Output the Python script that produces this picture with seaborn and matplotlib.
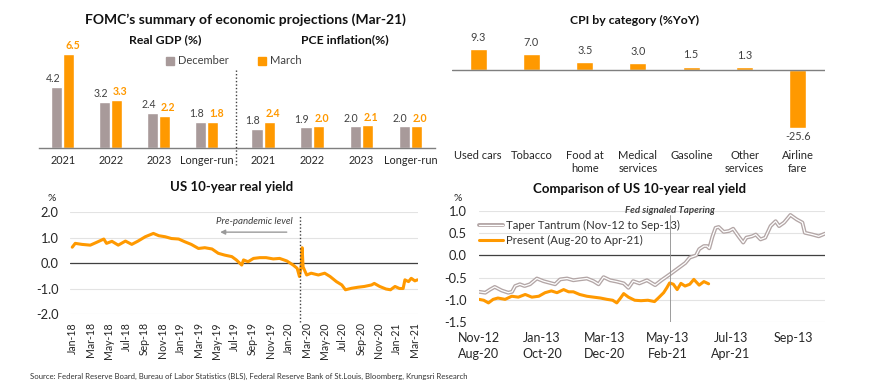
import matplotlib
matplotlib.use("Agg")
import matplotlib.pyplot as plt
import matplotlib.patheffects as pe
from matplotlib.lines import Line2D
from matplotlib.patches import Patch
import seaborn as sns
import pandas as pd

# ---------------- data ----------------
periods = ["2021", "2022", "2023", "Longer-run"]
gdp_dec = [4.2, 3.2, 2.4, 1.8]
gdp_mar = [6.5, 3.3, 2.2, 1.8]
pce_dec = [1.8, 1.9, 2.0, 2.0]
pce_mar = [2.4, 2.0, 2.1, 2.0]

cpi_categories = ["Used cars", "Tobacco", "Food at\nhome", "Medical\nservices",
                  "Gasoline", "Other\nservices", "Airline\nfare"]
cpi_values = [9.3, 7.0, 3.5, 3.0, 1.5, 1.3, -25.6]

# US 10-year real yield, months since Jan-2018
ry_month = [0, 0.33, 1.07, 2.0, 2.7, 3.5, 3.8, 4.4, 5.1, 5.9,
            6.6, 7.3, 8.1, 9.0, 9.6, 10.3, 11.0, 11.8, 12.5, 13.2,
            14.0, 14.7, 15.5, 16.2, 16.9, 17.7, 18.2, 18.8, 19.0, 19.5,
            20.1, 20.8, 21.5, 22.3, 23.0, 23.8, 24.5, 24.95, 25.2, 25.4,
            25.5, 25.6, 26.0, 26.5, 27.3, 28.0, 28.6, 29.3, 29.9, 30.3,
            31.0, 31.7, 32.4, 33.2, 33.5, 34.1, 34.8, 35.3, 35.8, 36.3,
            36.7, 36.9, 37.3, 37.6, 38.0, 38.3]
ry_value = [0.62, 0.77, 0.73, 0.70, 0.81, 0.94, 0.77, 0.85, 0.70, 0.86,
            0.73, 0.86, 1.03, 1.16, 1.07, 1.03, 0.96, 0.94, 0.83, 0.73,
            0.57, 0.60, 0.55, 0.38, 0.31, 0.25, 0.12, -0.08, 0.12, 0.05,
            0.18, 0.21, 0.21, 0.16, 0.18, 0.08, -0.08, -0.21, -0.53, -0.10,
            0.60, -0.15, -0.47, -0.40, -0.47, -0.40, -0.53, -0.73, -0.86, -1.05,
            -0.99, -0.95, -0.92, -0.86, -0.80, -0.92, -1.02, -1.05, -0.92, -1.00,
            -1.00, -0.66, -0.73, -0.60, -0.70, -0.66]
ry_ticklabels = ["Jan-18", "Mar-18", "May-18", "Jul-18", "Sep-18", "Nov-18",
                 "Jan-19", "Mar-19", "May-19", "Jul-19", "Sep-19", "Nov-19",
                 "Jan-20", "Mar-20", "May-20", "Jul-20", "Sep-20", "Nov-20",
                 "Jan-21", "Mar-21"]

# Comparison: months since start of each episode
tt_month = [0, 0.2, 0.35, 0.5, 0.72, 0.93, 1.05, 1.15, 1.3, 1.45,
            1.62, 1.84, 2.05, 2.26, 2.42, 2.58, 2.8, 3.0, 3.2, 3.43,
            3.64, 3.8, 3.96, 4.17, 4.38, 4.6, 4.75, 4.9, 5.1, 5.34,
            5.6, 5.8, 6.1, 6.35, 6.56, 6.7, 6.9, 7.0, 7.15, 7.25,
            7.32, 7.42, 7.52, 7.62, 7.78, 7.95, 8.08, 8.26, 8.4, 8.5,
            8.68, 8.8, 8.95, 9.1, 9.27, 9.43, 9.54, 9.7, 9.9, 10.1,
            10.28, 10.36, 10.6, 10.8, 11.0]
tt_value = [-0.82, -0.84, -0.77, -0.71, -0.79, -0.84, -0.82, -0.69, -0.65, -0.69,
            -0.65, -0.52, -0.58, -0.62, -0.65, -0.54, -0.52, -0.56, -0.54, -0.52,
            -0.58, -0.65, -0.49, -0.56, -0.59, -0.63, -0.73, -0.58, -0.63, -0.56,
            -0.67, -0.56, -0.41, -0.28, -0.17, -0.05, 0.0, 0.14, 0.21, 0.21,
            0.16, 0.42, 0.62, 0.64, 0.53, 0.55, 0.60, 0.42, 0.29, 0.40,
            0.43, 0.47, 0.36, 0.40, 0.66, 0.77, 0.66, 0.74, 0.91, 0.81,
            0.74, 0.51, 0.47, 0.43, 0.49]
pr_month = [0, 0.15, 0.3, 0.45, 0.6, 0.83, 1.04, 1.25, 1.47, 1.68,
            1.9, 2.1, 2.3, 2.48, 2.69, 2.85, 3.0, 3.2, 3.43, 3.64,
            3.86, 4.07, 4.25, 4.38, 4.5, 4.6, 4.75, 4.95, 5.15, 5.37,
            5.58, 5.7, 5.87, 5.97, 6.06, 6.18, 6.3, 6.42, 6.55, 6.7,
            6.83, 7.0, 7.15, 7.3]
pr_value = [-0.99, -1.01, -1.07, -0.99, -0.96, -0.99, -0.92, -0.94, -0.88, -0.94,
            -0.92, -0.84, -0.80, -0.84, -0.77, -0.82, -0.82, -0.88, -0.92, -0.94,
            -0.96, -0.99, -1.01, -1.07, -0.96, -0.86, -0.94, -1.01, -1.02, -1.01,
            -1.04, -0.96, -0.84, -0.73, -0.62, -0.65, -0.77, -0.63, -0.69, -0.65,
            -0.54, -0.67, -0.59, -0.64]
cmp_ticks = [0, 2, 4, 6, 8, 10]
cmp_ticklabels = ["Nov-12\nAug-20", "Jan-13\nOct-20", "Mar-13\nDec-20",
                  "May-13\nFeb-21", "Jul-13\nApr-21", "Sep-13\n "]

# ---------------- style ----------------
sns.set_style("white")
plt.rcParams["font.family"] = ["Lato", "DejaVu Sans"]
ORANGE = "#FF9900"
GREY = "#A89A9A"
TXT = "#262626"

W, H = 870, 391
fig = plt.figure(figsize=(W / 100, H / 100), dpi=100)


def fx(px):
    return px / W


def fy(py):
    return 1 - py / H


def rect(x0, y0, x1, y1):
    return [x0 / W, 1 - y1 / H, (x1 - x0) / W, (y1 - y0) / H]


# ---------------- FOMC panel ----------------
def fomc_panel(ax, dec, mar, ymax, xmax):
    df = pd.DataFrame({"period": periods * 2,
                       "value": dec + mar,
                       "series": ["December"] * 4 + ["March"] * 4})
    sns.barplot(data=df, x="period", y="value", hue="series",
                palette={"December": GREY, "March": ORANGE},
                width=0.5, gap=0.08, ax=ax, legend=False, saturation=1)
    ax.set_ylim(0, ymax)
    ax.set_xlim(-0.5, xmax)
    ax.set_xlabel("")
    ax.set_ylabel("")
    ax.set_yticks([])
    for s in ["top", "left", "right"]:
        ax.spines[s].set_visible(False)
    ax.spines["bottom"].set_color("#7f7f7f")
    ax.spines["bottom"].set_linewidth(1.0)
    ax.tick_params(axis="x", length=0, pad=5, labelsize=7.8, labelcolor=TXT)
    styles = [(-3.0, "#404040", "normal"), (2.5, ORANGE, "bold")]
    for cont, (dx, col, fw) in zip(ax.containers, styles):
        for p in cont:
            cx = p.get_x() + p.get_width() / 2
            ax.annotate(f"{p.get_height():.1f}", xy=(cx, p.get_height()),
                        xytext=(dx, 2), textcoords="offset points",
                        ha="center", va="bottom", fontsize=7.6,
                        color=col, fontweight=fw)


ax_gdp = fig.add_axes(rect(39, 46.5, 238.5, 148))
fomc_panel(ax_gdp, gdp_dec, gdp_mar, 7.0, 3.66)
ax_pce = fig.add_axes(rect(238.5, 46.5, 435, 148))
fomc_panel(ax_pce, pce_dec, pce_mar, 9.4, 3.5)

fig.text(fx(245), fy(20), "FOMC\u2019s summary of economic projections (Mar-21)",
         ha="center", va="center", fontsize=10, fontweight="bold", color="#111")
fig.text(fx(165), fy(40), "Real GDP (%)", ha="center", va="center",
         fontsize=8.8, fontweight="bold", color="#111")
fig.text(fx(345), fy(40), "PCE inflation(%)", ha="center", va="center",
         fontsize=8.8, fontweight="bold", color="#111")
fig.legend(handles=[Patch(color=GREY), Patch(color=ORANGE)],
           labels=["December", "March"], loc="center",
           bbox_to_anchor=(fx(234), fy(61)), ncol=2, frameon=False,
           fontsize=8, handlelength=0.7, handleheight=0.7,
           handletextpad=0.4, columnspacing=2.6, labelcolor="#404040")
fig.add_artist(Line2D([fx(236), fx(236)], [fy(70), fy(165)],
                      transform=fig.transFigure, color="#404040",
                      lw=1.0, ls=(0, (1, 1.5))))

# ---------------- CPI panel ----------------
ax_cpi = fig.add_axes(rect(452, 45, 825, 135))
sns.barplot(x=cpi_categories, y=cpi_values, color=ORANGE, width=0.32,
            saturation=1, ax=ax_cpi)
ax_cpi.set_ylim(-28.5, 11)
ax_cpi.set_xlim(-0.49, 6.51)
ax_cpi.axhline(0, color="#7f7f7f", lw=1.0)
sns.despine(ax=ax_cpi, left=True, bottom=True)
ax_cpi.set_yticks([])
ax_cpi.tick_params(axis="x", length=0, pad=11, labelsize=8, labelcolor=TXT)
for i, v in enumerate(cpi_values):
    ax_cpi.annotate(f"{v:.1f}", xy=(i, v), xytext=(0, 8.5 if v > 0 else -6),
                    textcoords="offset points", ha="center", va="center",
                    fontsize=7.8, color="#404040")
fig.text(fx(635), fy(20), "CPI by category (%YoY)", ha="center", va="center",
         fontsize=8.8, fontweight="bold", color="#111")

# ---------------- US 10-year real yield ----------------
ax_ry = fig.add_axes(rect(70, 212, 418, 314))
sns.lineplot(x=ry_month, y=ry_value, color=ORANGE, lw=2.2, ax=ax_ry)
ax_ry.set_ylim(-2, 2)
ax_ry.set_xlim(-0.25, 38.35)
ax_ry.set_yticks([-2, -1, 0, 1, 2])
ax_ry.set_yticklabels(["-2.0", "-1.0", "0.0", "1.0", "2.0"])
ax_ry.set_xticks(range(0, 39, 2))
ax_ry.set_xticklabels(ry_ticklabels, rotation=90)
ax_ry.grid(axis="y", color="#E3E3E3", lw=0.8)
ax_ry.set_axisbelow(True)
ax_ry.axhline(0, color="#404040", lw=0.9, zorder=1.5)
sns.despine(ax=ax_ry, left=True, bottom=True)
ax_ry.tick_params(axis="x", length=0, pad=6, labelsize=7.6, labelcolor=TXT)
ax_ry.tick_params(axis="y", length=0, pad=8, labelsize=9.3, labelcolor=TXT)
ax_ry.axvline(25.25, ymin=-0.08, ymax=0.96, clip_on=False, color="#404040",
              lw=1.0, ls=(0, (1, 1.5)))
ax_ry.text(20.2, 1.64, "Pre-pandemic level", ha="center", va="center",
           fontsize=7, style="italic", color="#404040")
ax_ry.annotate("", xy=(16.1, 1.21), xytext=(24.1, 1.21),
               arrowprops=dict(arrowstyle="-|>", color="#9a9a9a", lw=1.0,
                               mutation_scale=7))
fig.text(fx(232), fy(187), "US 10-year real yield", ha="center", va="center",
         fontsize=9.5, fontweight="bold", color="#111")
fig.text(fx(52), fy(198), "%", ha="center", va="center", fontsize=7.5, color=TXT)

# ---------------- Comparison ----------------
ax_c = fig.add_axes(rect(479, 211, 825, 322))
sns.lineplot(x=tt_month, y=tt_value, color="white", lw=0.9, ax=ax_c,
             label="Taper Tantrum (Nov-12 to Sep-13)",
             path_effects=[pe.Stroke(linewidth=2.8, foreground="#B3A6A6"), pe.Normal()])
sns.lineplot(x=pr_month, y=pr_value, color=ORANGE, lw=2.2, ax=ax_c,
             label="Present (Aug-20 to Apr-21)")
ax_c.set_ylim(-1.5, 1.0)
ax_c.set_xlim(0, 11.0)
ax_c.set_yticks([-1.5, -1.0, -0.5, 0, 0.5, 1.0])
ax_c.set_yticklabels(["-1.5", "-1.0", "-0.5", "0.0", "0.5", "1.0"])
ax_c.set_xticks(cmp_ticks)
ax_c.set_xticklabels(cmp_ticklabels, linespacing=1.45)
ax_c.grid(axis="y", color="#E3E3E3", lw=0.8)
ax_c.set_axisbelow(True)
ax_c.axhline(0, color="#404040", lw=0.9, zorder=1.5)
sns.despine(ax=ax_c, left=True, bottom=True)
ax_c.tick_params(axis="x", length=0, pad=7, labelsize=9, labelcolor=TXT)
ax_c.tick_params(axis="y", length=0, pad=9, labelsize=9.3, labelcolor=TXT)
ax_c.axvline(6.06, ymin=0, ymax=0.964, color="#8c8c8c", lw=0.6)
ax_c.text(6.06, 1.0, "Fed signaled Tapering", ha="center", va="center",
          fontsize=7, style="italic", fontweight="bold", color="#404040")
ax_c.legend(loc="upper left", bbox_to_anchor=(fx(479), fy(220)),
            bbox_transform=fig.transFigure, frameon=False, fontsize=8.2,
            handlelength=2.1, handletextpad=0.3, labelspacing=0.35,
            borderpad=0, borderaxespad=0, labelcolor="#333333")
fig.text(fx(640), fy(189), "Comparison of US 10-year real yield", ha="center",
         va="center", fontsize=9.5, fontweight="bold", color="#111")
fig.text(fx(458), fy(198), "%", ha="center", va="center", fontsize=7.5, color=TXT)

# ---------------- source ----------------
fig.text(fx(30), fy(376),
         "Source: Federal Reserve Board, Bureau of Labor Statistics (BLS), Federal Reserve Bank of St.Louis, Bloomberg, Krungsri Research",
         ha="left", va="center", fontsize=5.6, color="#333333")

fig.savefig("out.png", dpi=100, facecolor="white")
